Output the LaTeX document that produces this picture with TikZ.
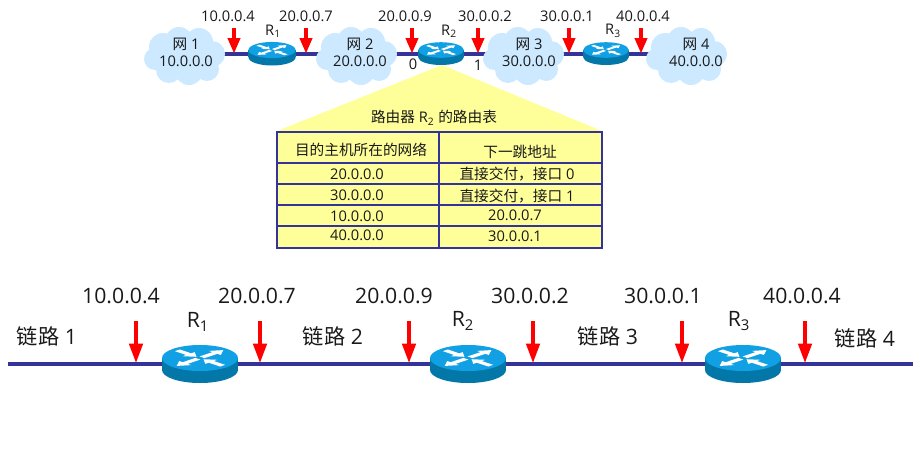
\documentclass[tikz,border=0pt]{standalone}
\usepackage{fontspec}
\setmainfont{Open Sans}
\newfontfamily\cjk{Noto Sans CJK SC}
\usetikzlibrary{arrows.meta}
\definecolor{linkblue}{HTML}{333399}
\definecolor{cloudblue}{HTML}{CCE9FF}
\definecolor{paleyellow}{HTML}{FFFF99}
\definecolor{rtop}{HTML}{12A0E4}
\definecolor{rside}{HTML}{0477A9}
\tikzset{
  x=0.75pt,y=-0.75pt,
  link/.style={draw=linkblue,line width=2.7pt},
  smalltxt/.style={font=\fontsize{11}{12.8}\selectfont,inner sep=0pt,text=black!90},
  celltxt/.style={font=\fontsize{11}{12.8}\selectfont,inner sep=0pt,text=black!90},
  bigtxt/.style={font=\fontsize{15.9}{18}\selectfont,inner sep=0pt,text=black!90},
  smallarrow/.style={draw=red,line width=2.6pt,-{Triangle[width=9pt,length=11.5pt,fill=red,color=red]}},
  bigarrow/.style={draw=red,line width=2.6pt,-{Triangle[width=10pt,length=14.5pt,fill=red,color=red]}},
  tableline/.style={draw=linkblue,line width=2pt},
  router/.pic={
    \fill[rside] (0,12) ellipse[x radius=38,y radius=13];
    \fill[rside] (-38,0) rectangle (38,12);
    \fill[rtop] (0,0) ellipse[x radius=38,y radius=13];
    \begin{scope}[yscale=.34]
      \foreach \a in {45,225}{
        \fill[white,rotate=\a] (3,-3.5) -- (21,-3.5) -- (21,-8.5) -- (33,0) -- (21,8.5) -- (21,3.5) -- (3,3.5) -- cycle;
      }
      \foreach \a in {135,315}{
        \fill[white,rotate=\a] (32,-3.5) -- (16,-3.5) -- (16,-8.5) -- (5,0) -- (16,8.5) -- (16,3.5) -- (32,3.5) -- cycle;
      }
    \end{scope}
  },
  netcloud/.pic={
    \fill[cloudblue]
      (0,0) ellipse[x radius=33,y radius=24]
      (-22,-9) circle[radius=14]
      (-6,-15) circle[radius=14]
      (14,-14) circle[radius=14]
      (27,-2) circle[radius=13]
      (22,13) circle[radius=12]
      (4,15) circle[radius=14]
      (-16,14) circle[radius=13]
      (-30,3) circle[radius=11];
  }
}
\begin{document}
\begin{tikzpicture}
\useasboundingbox (0,0) rectangle (920,457);
% top row: anchors
\coordinate (c1) at (185,56);
\coordinate (c2) at (357,56);
\coordinate (c3) at (524,56);
\coordinate (c4) at (687,56);
\coordinate (r1) at (272,54);
\coordinate (r2) at (441,54);
\coordinate (r3) at (606,54);
% links
\draw[link] (c1 |- r1) -- (r1) -- (c2 |- r1);
\draw[link] (c2 |- r1) -- (r2) -- (c3 |- r1);
\draw[link] (c3 |- r1) -- (r3) -- (c4 |- r1);
% clouds
\foreach \c in {c1,c2,c3,c4}{ \pic at (\c) {netcloud}; }
% triangle
\coordinate (apex) at (442,65);
\coordinate (tl) at (277,131);
\coordinate (tr) at (602,131);
\fill[paleyellow] (apex) -- (tr) -- (tl) -- cycle;
% routers
\pic[scale=.6] at (441,50) {router};
\pic[scale=.62] at (272,50) {router};
\pic[scale=.6] at (606,50) {router};
% cloud text
\node[smalltxt,align=center] (n1) at (186,52.5) {{\cjk 网} 1\\10.0.0.0};
\node[smalltxt,align=center] (n2) at (360,52.5) {{\cjk 网} 2\\20.0.0.0};
\node[smalltxt,align=center] (n3) at (529,52.5) {{\cjk 网} 3\\30.0.0.0};
\node[smalltxt,align=center] (n4) at (696,52.5) {{\cjk 网} 4\\40.0.0.0};
% top labels
\node[smalltxt] (a1) at (228,16) {10.0.0.4};
\node[smalltxt] (a2) at (306,16) {20.0.0.7};
\node[smalltxt] (a3) at (405,16) {20.0.0.9};
\node[smalltxt] (a4) at (485,16) {30.0.0.2};
\node[smalltxt] (a5) at (567,16) {30.0.0.1};
\node[smalltxt] (a6) at (643,16) {40.0.0.4};
\node[smalltxt] (lr1) at (273,31) {R\textsubscript{1}};
\node[smalltxt] (lr2) at (449,31) {R\textsubscript{2}};
\node[smalltxt] (lr3) at (613,31) {R\textsubscript{3}};
\node[smalltxt] (p0) at (413,64) {0};
\node[smalltxt] (p1) at (478,65) {1};
% top arrows
\foreach \n/\xx in {t1/234,t2/306,t3/412,t4/478,t5/569,t6/641}{
  \coordinate (\n s) at (\xx,28);
  \coordinate (\n e) at (\xx,53.5);
  \draw[smallarrow] (\n s) -- (\n e);
}
% table
\fill[paleyellow] (277,132) rectangle (602,248);
\coordinate (tnw) at (277,132);
\coordinate (tse) at (602,248);
\draw[tableline] (tnw) rectangle (tse);
\draw[tableline] (439,132) -- (439,248);
\foreach \yy in {163,184,205,226}{ \draw[tableline] (277,\yy) -- (602,\yy); }
\node[celltxt] (title) at (434,118) {{\cjk 路由器} R\textsubscript{2} {\cjk 的路由表}};
\node[celltxt] (h1) at (361,150) {\cjk 目的主机所在的网络};
\node[celltxt] (h2) at (520,152) {\cjk 下一跳地址};
\node[celltxt] (d1) at (357,174) {20.0.0.0};
\node[celltxt] (d2) at (357,195) {30.0.0.0};
\node[celltxt] (d3) at (357,216) {10.0.0.0};
\node[celltxt] (d4) at (357,235) {40.0.0.0};
\node[celltxt] (g1) at (517,174) {{\cjk 直接交付，接口} 0};
\node[celltxt] (g2) at (517,196) {{\cjk 直接交付，接口} 1};
\node[celltxt] (g3) at (515,215) {20.0.0.7};
\node[celltxt] (g4) at (515,236) {30.0.0.1};
% bottom row
\coordinate (bl) at (8,364);
\coordinate (br) at (913,364);
\draw[link] (bl) -- (br);
\pic at (200,358) {router};
\pic at (468,358) {router};
\pic at (743,358) {router};
\node[bigtxt] (b1) at (121,296) {10.0.0.4};
\node[bigtxt] (b2) at (257,296) {20.0.0.7};
\node[bigtxt] (b3) at (394,296) {20.0.0.9};
\node[bigtxt] (b4) at (530,296) {30.0.0.2};
\node[bigtxt] (b5) at (663,296) {30.0.0.1};
\node[bigtxt] (b6) at (802,296) {40.0.0.4};
\node[bigtxt] (br1) at (198,322) {R\textsubscript{1}};
\node[bigtxt] (br2) at (463,321) {R\textsubscript{2}};
\node[bigtxt] (br3) at (739,321) {R\textsubscript{3}};
\node[bigtxt] (k1) at (47,336) {{\cjk 链路} 1};
\node[bigtxt] (k2) at (333,336) {{\cjk 链路} 2};
\node[bigtxt] (k3) at (608,336) {{\cjk 链路} 3};
\node[bigtxt] (k4) at (865,338) {{\cjk 链路} 4};
\foreach \n/\xx in {u1/136,u2/260,u3/409,u4/533,u5/682,u6/805}{
  \coordinate (\n s) at (\xx,321);
  \coordinate (\n e) at (\xx,363);
  \draw[bigarrow] (\n s) -- (\n e);
}
\end{tikzpicture}
\end{document}
